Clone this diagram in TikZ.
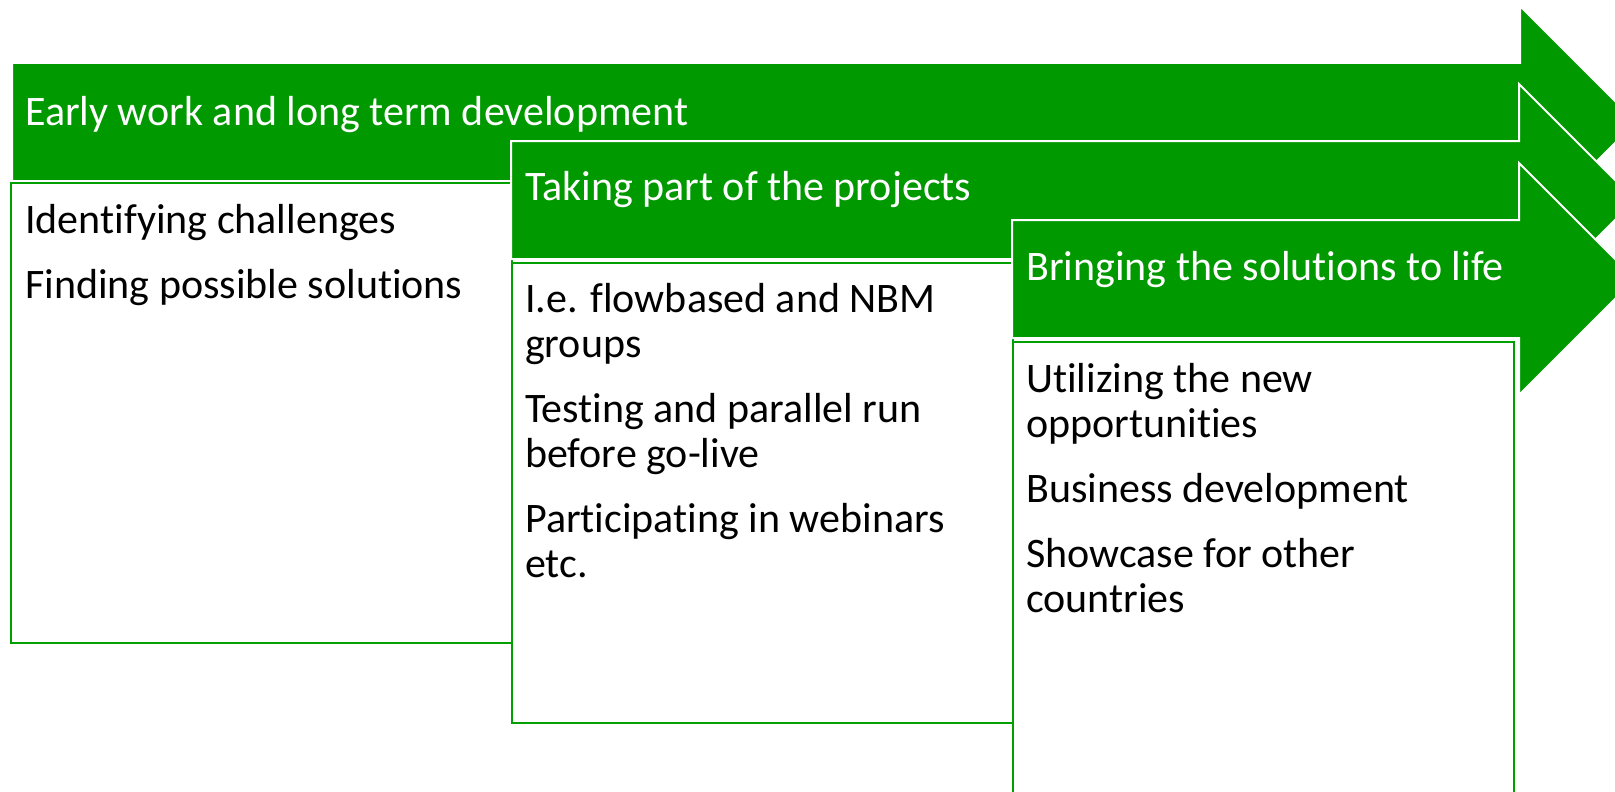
\documentclass[tikz,border=0pt]{standalone}
\usepackage{fontspec}
\setmainfont[Ligatures=NoCommon]{Carlito}
\usetikzlibrary{positioning,calc}
\definecolor{stagegreen}{HTML}{009900}
\definecolor{framegreen}{HTML}{00A000}
\begin{document}
\begin{tikzpicture}[
      x=1pt, y=-1pt,
      band/.style={fill=stagegreen,draw=white,line width=2pt,line join=miter},
      box/.style={rectangle,draw=framegreen,fill=white,line width=2.4pt,inner sep=0pt,outer sep=0pt,
                  minimum width=501pt,minimum height=460pt,anchor=north west},
      head/.style={anchor=base west,inner sep=0pt,text=white,font=\fontsize{42}{45}\selectfont},
      items/.style={anchor=base west,inner sep=0pt,font=\fontsize{42}{45}\selectfont}
    ]
    \useasboundingbox (0,0) rectangle (1615,792);

    % stage 1
    \filldraw[band] (12,63) -- ++(1508,0) -- ++(0,-57) -- ++(116,116) -- ++(-116,116)
      -- ++(0,-57) -- ++(-1508,0) -- cycle;
    \node[head] (title1) at (25,125) {Early work and long term development};
    \node[box] (box1) at (11,183) {};
    \node[items] (list1) at ($(box1.north west)+(14,50)$)
      {\begin{tabular}[t]{@{}l@{}}Identifying challenges\\[20pt]Finding possible solutions\end{tabular}};

    % stage 2
    \filldraw[band] (511,141) -- ++(1008,0) -- ++(0,-57) -- ++(116,116) -- ++(-116,116)
      -- ++(0,-57) -- ++(-1008,0) -- cycle;
    \node[head] (title2) at (525,200) {Taking part of the projects};
    \node[box,below right=80pt and 0pt of box1.north east] (box2) {};
    \node[items] (list2) at ($(box2.north west)+(13,49)$)
      {\begin{tabular}[t]{@{}l@{}}I.e. flowbased and NBM\\groups\\[20pt]Testing and parallel run\\before go-live\\[20pt]%
       Participating in webinars\\etc.\end{tabular}};

    % stage 3
    \filldraw[band] (1012,220) -- ++(507,0) -- ++(0,-57) -- ++(116,116) -- ++(-116,116)
      -- ++(0,-57) -- ++(-507,0) -- cycle;
    \node[head] (title3) at (1026,280) {Bringing the solutions to life};
    \node[box,below right=79pt and 0pt of box2.north east] (box3) {};
    \node[items] (list3) at ($(box3.north west)+(13,50)$)
      {\begin{tabular}[t]{@{}l@{}}Utilizing the new\\opportunities\\[20pt]Business development\\[20pt]%
       Showcase for other\\countries\end{tabular}};

  \end{tikzpicture}
\end{document}
